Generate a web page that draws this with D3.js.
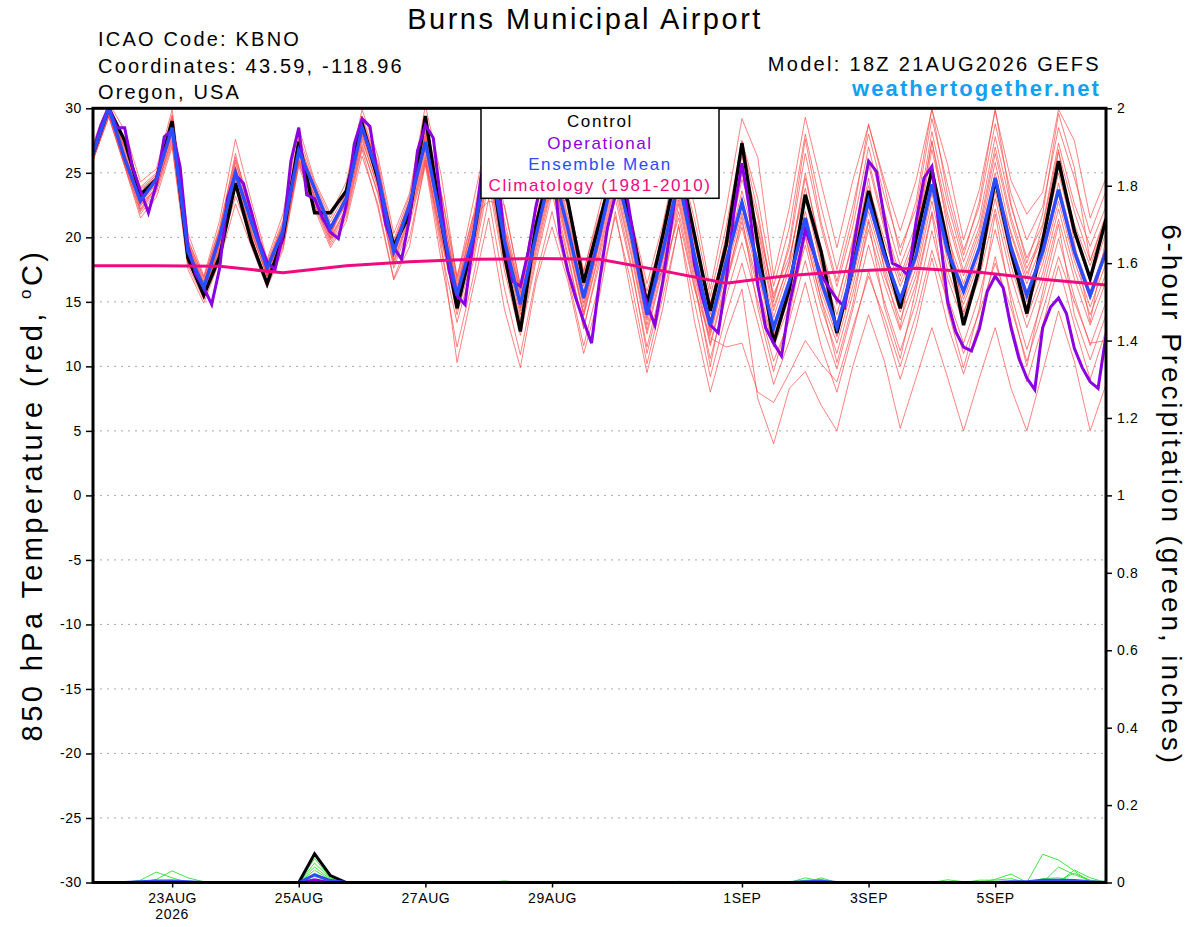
<!DOCTYPE html>
<html>
<head>
<meta charset="utf-8">
<script src="https://cdn.jsdelivr.net/npm/d3@7"></script>
<style>
body { margin: 0; background: #fff; }
svg text { font-family: "Liberation Sans", Arial, Helvetica, sans-serif; }
</style>
</head>
<body>
<div id="chart"></div>
<script>
// Forecast run: 18Z 21AUG2026, 6-hourly to 384 h
const runStart = Date.UTC(2026, 7, 21, 18);
const runEnd = Date.UTC(2026, 8, 6, 18);

// Control (black), 6-hourly, deg C
const control = [26.5,30.0,27.5,23.3, 24.5,29.0,18.4,15.5, 18.5,24.2,19.7,16.4, 20.0,27.4,21.9,21.9,
  23.6,28.8,24.5,19.3, 21.8,29.4,21.2,14.5, 19.7,27.0,18.6,12.7, 21.0,26.0,22.8,16.5,
  21.2,26.0,21.0,14.8, 20.2,26.0,20.2,14.3, 19.4,27.3,19.5,11.8, 16.0,23.3,18.9,12.6,
  17.6,23.6,18.9,14.5, 19.9,25.2,19.4,13.2, 17.6,24.5,18.9,14.1, 19.7,25.9,20.5,16.8, 21.4];

// Ensemble mean (blue), 6-hourly
const ensMean = [26.5,30.0,26.1,22.8, 24.5,28.5,18.9,16.1, 20.0,25.0,21.2,17.6, 20.5,26.7,23.8,20.7,
  23.0,28.5,24.9,18.9, 22.5,27.4,21.2,15.5, 20.0,26.5,19.7,14.8, 20.2,25.5,20.7,15.3,
  20.2,25.5,20.2,14.0, 18.9,24.5,18.6,13.2, 18.1,22.7,17.9,13.0, 16.6,21.5,16.6,13.0,
  17.6,22.8,18.6,15.2, 18.6,24.1,18.9,15.8, 19.2,24.6,19.2,15.5, 18.9,23.7,18.9,15.5, 18.9];

// Operational (purple), 3-hourly
const operational = [26.7,28.7,30.1,28.5,28.5,25.4,23.6,21.9,24.1,27.8,
  28.3,25.5,19.3,17.1,16.1,14.8,17.6,23.0,24.85,24.2,
  22.0,19.7,18.1,17.5,20.2,25.9,28.5,23.3,23.0,21.5,
  20.4,19.9,22.5,27.2,29.2,28.6,24.6,21.0,19.2,18.3,
  21.5,26.7,28.7,27.7,22.5,17.4,15.5,14.8,19.5,24.6,
  27.5,26.0,19.7,16.6,16.2,18.9,22.5,25.0,26.5,20.2,
  17.4,15.3,13.5,11.8,16.6,20.7,23.3,25.0,21.2,17.1,
  14.8,13.2,16.6,20.7,25.0,22.5,17.9,15.3,13.2,12.6,
  16.6,22.0,25.75,22.0,16.3,13.0,11.8,10.8,14.8,17.6,
  20.6,18.9,17.1,16.1,15.2,14.6,18.9,22.5,25.9,25.1,
  21.5,18.0,17.7,17.0,21.2,24.6,25.5,20.2,15.0,12.7,
  11.5,11.2,12.9,15.8,17.0,16.1,13.0,10.6,9.1,8.2,
  13.0,14.6,15.3,14.1,11.4,9.9,8.8,8.3,12.4];

// Climatology 1981-2010 (magenta), daily at 18Z
const climatology = [17.8,17.8,17.75,17.25,17.8,18.1,18.3,18.35,18.3,17.4,16.45,17.05,17.4,17.6,17.3,16.75,16.3];

// Ensemble members (red), 6-hourly
const memberA = [27.3,30.4,28.3,24.3, 25.3,29.9,20.3,17.0, 21.3,27.6,22.8,18.3, 21.8,28.5,24.4,21.8, 24.3,29.9,26.3,20.3, 23.4,30.2,24.8,16.8, 22.6,28.3,22.3,16.3, 22.1,27.4,23.0,17.3, 22.3,27.3,21.5,16.4, 21.0,26.8,22.5,16.0, 22.2,29.2,26.2,17.0, 22.3,29.3,24.2,19.2, 24.4,28.7,24.4,20.5, 24.4,29.9,25.6,19.8, 23.7,29.8,24.4,21.8, 23.5,29.9,27.5,21.5, 24.6];
const memberB = [26.9,30.1,27.5,23.9, 25.0,29.5,19.8,16.8, 20.8,26.2,22.2,18.1, 21.3,27.9,24.2,21.5, 23.8,29.4,25.8,19.8, 23.2,29.0,23.4,16.6, 21.5,27.8,21.3,16.0, 21.5,26.8,22.2,16.9, 21.5,26.8,21.2,15.8, 20.3,26.2,21.4,15.4, 20.8,27.5,23.0,16.2, 20.8,28.0,22.4,17.5, 22.4,28.0,23.2,19.2, 22.2,29.2,24.0,19.0, 22.4,28.8,23.4,19.8, 22.4,28.5,24.6,20.3, 23.6];
const memberC = [26.7,30.0,26.8,23.5, 24.9,29.2,19.5,16.5, 20.4,25.8,21.8,17.9, 21.0,27.4,24.0,21.2, 23.5,29.0,25.4,19.4, 22.8,28.3,22.5,16.3, 21.0,27.3,20.8,15.7, 21.0,26.4,21.7,16.4, 21.0,26.3,20.8,15.3, 19.8,25.6,20.3,14.8, 19.8,26.3,21.5,15.3, 19.2,26.5,20.8,16.2, 20.8,27.0,22.0,17.8, 21.0,28.2,22.6,18.1, 21.4,27.8,22.4,18.4, 21.0,27.3,22.6,19.3, 22.4];
const memberD = [26.5,30.2,26.4,23.0, 24.6,28.8,19.0,16.3, 20.2,25.3,21.4,17.7, 20.7,27.0,23.9,20.9, 23.2,28.7,25.0,19.0, 22.6,27.8,21.8,15.9, 20.4,26.8,20.2,15.2, 20.6,25.9,21.1,15.8, 20.6,25.9,20.5,14.7, 19.3,25.0,19.5,14.0, 19.0,25.0,20.0,14.3, 18.2,24.6,19.2,15.0, 19.5,25.6,20.6,16.6, 19.9,26.8,21.3,17.0, 20.4,26.5,21.2,17.2, 20.0,25.9,21.0,17.8, 21.3];
const memberE = [26.4,29.9,26.0,22.7, 24.4,28.4,18.7,16.0, 19.9,24.8,21.0,17.5, 20.4,26.6,23.7,20.6, 22.9,28.3,24.7,18.8, 22.3,27.2,21.0,15.4, 19.9,26.2,19.6,14.6, 20.0,25.3,20.6,15.2, 20.0,25.3,20.0,13.8, 18.7,24.2,18.5,13.0, 18.0,23.0,18.3,13.2, 16.9,22.0,17.0,13.3, 17.9,23.5,19.0,15.4, 18.6,24.8,19.5,16.0, 19.2,25.0,19.6,15.8, 19.0,24.2,19.3,15.8, 19.3];
const memberF = [26.3,29.7,25.8,22.4, 24.2,28.0,18.4,15.8, 19.6,24.4,20.7,17.3, 20.1,26.3,23.5,20.3, 22.6,27.9,24.3,18.5, 22.0,26.7,20.5,15.0, 19.4,25.6,19.0,14.0, 19.6,24.8,20.0,14.6, 19.5,24.6,19.4,13.2, 18.2,23.6,17.8,12.4, 17.3,21.9,17.0,12.4, 15.8,20.6,15.8,12.3, 16.8,22.0,17.7,14.2, 17.6,23.4,18.2,14.8, 18.1,23.6,18.4,14.5, 17.9,22.8,18.2,14.6, 18.0];
const memberG = [26.2,29.5,25.6,22.1, 23.9,27.6,18.1,15.5, 19.2,23.8,20.4,17.0, 19.8,26.0,23.2,20.0, 22.3,27.5,24.0,18.1, 21.6,26.2,19.8,14.4, 18.8,25.0,18.3,13.3, 19.0,24.2,19.3,13.9, 18.8,24.0,18.6,12.5, 17.5,22.9,17.0,11.6, 16.4,20.8,16.0,11.5, 14.8,19.4,14.6,11.0, 15.6,20.6,16.4,12.8, 16.4,22.0,16.8,13.4, 16.9,22.2,17.0,13.0, 16.6,21.4,16.8,13.2, 16.6];
const memberH = [26.1,29.4,25.5,21.8, 23.5,27.2,17.8,15.2, 18.8,23.2,20.0,16.6, 19.4,25.7,22.8,19.6, 21.8,27.0,23.5,17.6, 21.0,25.8,19.0,13.4, 18.0,24.2,17.4,12.4, 18.2,23.4,18.4,13.0, 17.9,23.0,17.6,11.5, 16.6,22.0,16.2,10.6, 15.4,19.6,15.0,10.4, 13.6,18.2,13.4,9.8, 14.4,19.4,15.0,11.2, 15.0,20.5,15.4,11.8, 15.5,20.6,15.6,11.3, 15.2,19.9,15.4,11.6, 15.0];
const memberI = [26.0,29.3,25.5,21.5, 23.1,27.0,17.5,14.9, 18.2,22.6,19.3,16.1, 19.0,25.5,22.2,19.2, 21.2,26.3,22.6,16.8, 20.0,25.6,18.2,11.5, 16.8,23.0,16.0,10.9, 17.0,22.0,17.0,11.6, 16.5,21.6,16.5,10.2, 15.4,20.8,15.0,9.2, 14.0,18.0,13.4,8.6, 12.0,16.5,11.6,8.0, 12.6,17.4,13.2,9.0, 13.0,18.4,13.2,9.4, 13.4,18.5,13.4,8.8, 13.2,17.8,13.2,9.0, 12.8];
const memberJ = [25.9,29.6,26.2,22.2, 24.0,28.2,18.0,15.6, 19.0,24.0,20.2,16.4, 19.2,25.9,22.5,19.4, 21.5,26.8,22.3,16.7, 19.3,26.0,19.5,10.3, 16.0,21.5,14.4,9.9, 16.6,20.8,16.6,11.0, 15.5,22.0,15.5,9.5, 14.5,21.0,13.5,8.0, 12.5,16.0,7.5,4.0, 8.3,9.6,7.0,5.0, 10.0,14.0,10.4,5.2, 9.1,13.0,9.1,5.0, 9.1,13.0,8.3,5.0, 9.6,14.3,10.4,5.0, 8.6];
const memberK = [26.6,29.8,27.0,23.2, 24.7,28.6,19.2,16.4, 20.5,25.5,21.5,17.2, 20.2,26.0,23.3,20.4, 22.7,28.0,24.6,19.2, 22.9,27.0,23.5,17.0, 21.6,22.8,22.5,16.2, 22.4,23.0,22.8,17.4, 21.8,24.0,21.0,15.0, 17.5,21.5,16.0,12.2, 11.5,11.8,8.0,7.2, 9.5,12.0,10.2,8.8, 13.0,17.0,13.8,10.0, 14.0,19.0,15.0,11.0, 14.2,18.0,14.5,10.4, 14.3,18.5,15.0,11.8, 12.0];
const memberL = [26.8,30.3,26.6,23.2, 24.0,28.1,19.8,16.9, 20.6,26.5,21.6,17.0, 20.8,26.8,23.0,20.0, 23.4,28.9,25.2,19.6, 22.6,27.9,21.5,15.2, 19.6,26.6,20.4,15.5, 20.4,24.9,19.6,14.2, 19.8,25.8,21.1,15.2, 19.4,24.2,18.0,12.8, 18.8,24.5,20.8,15.6, 18.5,23.8,18.0,12.4, 18.2,24.6,17.4,13.0, 20.2,27.5,20.6,14.2, 17.6,24.0,20.4,16.8, 20.8,26.8,19.6,13.4, 20.0];
const memberM = [26.4,30.0,27.0,23.7, 24.6,29.1,19.4,16.3, 19.8,25.4,21.0,17.8, 20.9,27.6,23.6,20.8, 23.0,29.2,25.5,19.0, 22.2,28.6,22.8,16.0, 21.2,27.0,20.0,14.5, 20.9,26.0,20.8,15.6, 21.2,26.6,20.3,14.4, 19.6,25.2,19.6,14.5, 20.1,27.4,22.0,15.0, 19.6,27.6,21.2,16.6, 21.6,28.8,24.0,18.6, 22.8,30.0,23.2,18.6, 22.8,30.0,22.6,18.0, 21.8,29.6,25.4,18.2, 21.5];
const memberN = [26.2,29.6,25.9,22.5, 23.8,27.4,18.5,15.6, 19.5,24.6,20.4,17.1, 19.6,25.8,22.5,19.8, 22.0,27.2,23.3,17.9, 21.4,26.0,20.2,14.0, 18.5,24.8,17.9,12.8, 18.6,23.9,18.7,12.9, 18.4,23.6,17.9,11.0, 16.0,22.6,16.6,10.0, 16.3,21.6,14.5,9.6, 14.0,20.0,15.2,10.3, 14.8,21.2,14.6,10.6, 16.0,21.8,14.4,9.9, 14.5,21.8,15.0,10.0, 15.8,21.0,14.0,10.5, 14.0];
const memberO = [26.6,30.1,26.3,22.6, 24.5,28.7,19.1,16.2, 20.1,25.1,21.3,17.6, 20.6,26.9,23.8,20.5, 23.1,28.6,24.8,18.8, 22.5,27.6,21.6,15.8, 20.3,26.4,19.9,15.0, 20.3,25.6,20.9,15.5, 20.3,25.6,20.2,14.2, 19.0,24.7,18.9,13.6, 18.4,23.6,19.0,13.8, 17.6,23.0,17.8,14.0, 18.8,24.0,19.8,16.2, 19.2,25.6,20.0,16.4, 20.0,25.8,20.2,16.4, 19.6,25.0,20.2,16.6, 20.4];
const memberP = [26.3,29.8,26.5,23.1, 24.3,28.3,18.8,15.9, 19.8,24.9,21.1,17.4, 20.5,26.5,23.6,20.6, 22.8,28.2,24.5,18.6, 22.1,27.0,20.8,15.3, 19.8,26.0,19.4,14.3, 19.8,25.1,20.3,14.9, 19.7,25.1,19.8,13.6, 18.4,24.0,18.2,12.6, 17.6,22.4,17.4,12.6, 16.2,21.2,16.2,12.7, 17.2,22.6,18.2,14.6, 18.2,24.0,18.6,15.2, 18.6,24.2,18.8,15.0, 18.4,23.4,18.6,15.2, 18.6];
const memberQ = [26.7,30.2,27.2,23.8, 24.8,29.4,19.6,16.6, 20.3,26.0,21.7,17.8, 21.1,27.2,23.6,20.2, 23.6,28.9,25.6,19.5, 22.9,28.1,22.0,16.0, 20.8,27.0,20.6,15.8, 20.8,26.2,21.4,16.2, 20.8,26.4,20.9,15.0, 19.9,25.8,20.0,14.9, 19.4,25.5,20.6,14.6, 18.0,25.0,18.8,14.8, 19.8,26.0,21.0,17.0, 20.4,27.4,21.8,17.4, 20.8,27.0,21.6,17.6, 20.2,26.6,22.0,18.2, 21.8];
const memberR = [26.0,29.4,25.7,22.0, 23.7,27.8,18.2,15.3, 19.4,24.2,20.6,16.9, 20.0,26.2,23.0,19.9, 22.2,27.7,23.8,18.2, 21.8,26.4,20.0,14.8, 19.1,25.3,18.7,13.6, 19.3,24.5,19.6,14.0, 19.1,24.3,18.9,12.8, 17.8,23.2,17.4,11.8, 16.8,21.2,16.4,11.8, 15.4,20.2,15.2,11.8, 16.2,21.4,17.0,13.6, 17.0,22.8,17.4,14.0, 17.6,23.0,17.8,13.8, 17.2,22.2,17.5,14.0, 17.2];
const members = [memberA, memberB, memberC, memberD, memberE, memberF, memberG, memberH, memberI,
  memberJ, memberK, memberL, memberM, memberN, memberO, memberP, memberQ, memberR];

// 6-hour precipitation (inches), 6-hourly
const precipControl = [0,0,0,0, 0,0,0,0, 0,0,0,0, 0,0,0.074,0.018, 0,0,0,0, 0,0,0,0, 0,0,0,0, 0,0,0,0,
  0,0,0,0, 0,0,0,0, 0,0,0,0, 0,0,0,0, 0,0,0,0, 0,0,0,0, 0,0,0,0, 0,0,0,0, 0];
const precipMean = [0,0,0,0.002, 0.004,0.004,0.002,0, 0,0,0,0, 0,0,0.02,0.005, 0,0,0,0, 0,0,0,0, 0,0,0,0, 0,0,0,0,
  0,0,0,0, 0,0,0,0, 0,0,0,0, 0,0.002,0.003,0, 0,0,0,0, 0,0,0,0, 0,0,0.002,0.002, 0.006,0.006,0.005,0.002, 0];
const precipOper = [0,0,0,0, 0,0,0,0, 0,0,0,0, 0,0,0.008,0, 0,0,0,0, 0,0,0,0, 0,0,0,0, 0,0,0,0,
  0,0,0,0, 0,0,0,0, 0,0,0,0, 0,0,0,0, 0,0,0,0, 0,0,0,0, 0,0,0,0, 0,0,0,0, 0];
const precip1 = [0,0,0,0.006, 0.027,0.012,0,0, 0,0,0,0, 0,0,0.062,0.012, 0,0,0,0, 0,0,0,0, 0,0,0,0, 0,0,0,0,
  0,0,0,0, 0,0,0,0, 0,0,0,0, 0,0.012,0.004,0, 0,0,0,0, 0,0,0,0, 0,0,0,0, 0.073,0.058,0.03,0, 0];
const precip2 = [0,0.002,0.001,0, 0.008,0.03,0.012,0.002, 0,0,0,0, 0,0,0.05,0.01, 0,0,0,0, 0,0,0,0, 0,0,0,0, 0,0,0,0,
  0,0,0,0, 0,0,0,0, 0,0,0,0, 0,0,0.012,0, 0,0,0,0, 0,0,0,0, 0,0.008,0.022,0, 0,0.04,0.02,0.005, 0];
const precip3 = [0,0,0,0, 0.004,0.006,0,0, 0,0,0,0, 0,0,0.04,0.008, 0,0,0,0, 0,0,0,0, 0,0,0.004,0, 0,0,0,0,
  0,0,0,0, 0,0,0,0, 0,0,0,0, 0,0.006,0.008,0, 0,0,0,0, 0,0,0.007,0.002, 0,0,0,0, 0,0,0.032,0.012, 0];
const precip4 = [0,0,0,0, 0,0,0,0, 0,0,0,0, 0,0,0.032,0.006, 0,0,0,0, 0,0,0,0, 0,0,0,0, 0,0,0,0,
  0,0,0,0, 0,0.003,0.002,0, 0,0,0,0, 0,0,0,0, 0,0,0,0, 0,0,0,0, 0.006,0.006,0.01,0, 0,0.005,0.024,0.006, 0];
const precip5 = [0,0,0,0, 0,0,0,0, 0,0,0,0, 0,0,0.024,0.004, 0,0,0,0, 0,0,0,0, 0,0,0,0, 0,0,0,0,
  0,0,0,0, 0,0,0,0, 0,0.002,0.002,0, 0,0,0,0, 0,0,0,0, 0,0,0,0, 0,0,0,0, 0.01,0.012,0.006,0, 0];
const precip6 = [0,0,0,0.004, 0,0,0,0, 0,0,0,0, 0,0,0.016,0.002, 0,0,0,0, 0,0,0,0, 0,0,0,0, 0,0,0,0,
  0,0,0,0, 0,0,0,0, 0,0,0,0, 0,0.004,0,0, 0,0,0,0, 0,0,0,0, 0,0,0,0, 0,0,0,0, 0.004];
const precipMembers = [precip1, precip2, precip3, precip4, precip5, precip6];

// Axis ticks
const tempTicks = d3.range(-30, 31, 5);
const precipTicks = d3.range(0, 11).map(k => k / 5);
const xTickDates = [Date.UTC(2026,7,23), Date.UTC(2026,7,25), Date.UTC(2026,7,27), Date.UTC(2026,7,29),
  Date.UTC(2026,8,1), Date.UTC(2026,8,3), Date.UTC(2026,8,5)];
const xTickLabels = ['23AUG', '25AUG', '27AUG', '29AUG', '1SEP', '3SEP', '5SEP'];

const width = 1200, height = 927;
const margin = { top: 108.3, right: 94, bottom: 44.5, left: 93 };
const innerWidth = width - margin.left - margin.right;
const innerHeight = height - margin.top - margin.bottom;

const root = d3.select('#chart').append('svg')
  .attr('width', width)
  .attr('height', height)
  .style('display', 'block');
root.append('rect').attr('width', width).attr('height', height).attr('fill', '#fff');

const svg = root.append('g').attr('transform', `translate(${margin.left},${margin.top})`);

// Scales
const x = d3.scaleUtc().domain([runStart, runEnd]).range([0, innerWidth]);
const yT = d3.scaleLinear().domain([-30, 30]).range([innerHeight, 0]);
const yP = d3.scaleLinear().domain([0, 2]).range([innerHeight, 0]);
const HOUR = 3600 * 1000;
const timeAt = (i, step) => runStart + i * step * HOUR;

svg.append('clipPath').attr('id', 'plot-clip')
  .append('rect').attr('x', 0).attr('y', 0).attr('width', innerWidth).attr('height', innerHeight);

// Dotted grid at temperature ticks
svg.append('g').selectAll('line')
  .data(tempTicks.filter(t => t > -30 && t < 30))
  .join('line')
  .attr('x1', 0).attr('x2', innerWidth)
  .attr('y1', d => yT(d)).attr('y2', d => yT(d))
  .attr('stroke', '#a8a8a8')
  .attr('stroke-width', 1)
  .attr('stroke-dasharray', '2,5');

const plot = svg.append('g').attr('clip-path', 'url(#plot-clip)');

const lineOf = (step, scale) => d3.line()
  .x((d, i) => x(timeAt(i, step)))
  .y(d => scale(d));

// Ensemble members
plot.append('g').selectAll('path')
  .data(members)
  .join('path')
  .attr('d', lineOf(6, yT))
  .attr('fill', 'none')
  .attr('stroke', '#ff4646')
  .attr('stroke-opacity', 0.85)
  .attr('stroke-width', 0.8);

// Precipitation members
plot.append('g').selectAll('path')
  .data(precipMembers)
  .join('path')
  .attr('d', lineOf(6, yP))
  .attr('fill', 'none')
  .attr('stroke', '#2ee02e')
  .attr('stroke-width', 0.9);

plot.append('path').datum(precipControl)
  .attr('d', lineOf(6, yP)).attr('fill', 'none')
  .attr('stroke', '#000').attr('stroke-width', 3);
plot.append('path').datum(precipOper)
  .attr('d', lineOf(6, yP)).attr('fill', 'none')
  .attr('stroke', '#8a00e0').attr('stroke-width', 2.5);
plot.append('path').datum(precipMean)
  .attr('d', lineOf(6, yP)).attr('fill', 'none')
  .attr('stroke', '#2b4cff').attr('stroke-width', 3);

// Main temperature lines
plot.append('path').datum(control)
  .attr('d', lineOf(6, yT)).attr('fill', 'none')
  .attr('stroke', '#000').attr('stroke-width', 3.4);
plot.append('path').datum(operational)
  .attr('d', lineOf(3, yT)).attr('fill', 'none')
  .attr('stroke', '#8a00e0').attr('stroke-width', 3);
plot.append('path').datum(ensMean)
  .attr('d', lineOf(6, yT)).attr('fill', 'none')
  .attr('stroke', '#2b4cff').attr('stroke-width', 3.4);
plot.append('path').datum(climatology)
  .attr('d', lineOf(24, yT)).attr('fill', 'none')
  .attr('stroke', '#f00a80').attr('stroke-width', 3);

// Axes (tick marks from d3 axes, side labels placed from the same scales)
const styleAxis = g => {
  g.select('.domain').remove();
  g.selectAll('.tick line').attr('stroke', '#000').attr('stroke-width', 1.5);
  g.selectAll('.tick text')
    .attr('fill', '#000')
    .attr('font-size', 14)
    .attr('font-family', '"Liberation Sans", Arial, sans-serif')
    .style('letter-spacing', '0.6px');
};
const dropLabels = g => g.selectAll('.tick text').remove();

svg.append('g')
  .call(d3.axisLeft(yT).tickValues(tempTicks).tickSize(7))
  .call(styleAxis)
  .call(dropLabels);

svg.append('g')
  .attr('transform', `translate(${innerWidth},0)`)
  .call(d3.axisRight(yP).tickValues(precipTicks).tickSize(6))
  .call(styleAxis)
  .call(dropLabels);

svg.append('g')
  .attr('transform', `translate(0,${innerHeight})`)
  .call(d3.axisBottom(x).tickValues(xTickDates).tickSize(5).tickPadding(5.5)
    .tickFormat((d, i) => xTickLabels[i]))
  .call(styleAxis);

svg.append('g').selectAll('text')
  .data(tempTicks)
  .join('text')
  .attr('x', -11)
  .attr('y', d => yT(d) + 5)
  .attr('text-anchor', 'end')
  .attr('font-size', 14)
  .style('letter-spacing', '0.6px')
  .text(d => d);

svg.append('g').selectAll('text')
  .data(precipTicks)
  .join('text')
  .attr('x', innerWidth + 11)
  .attr('y', d => yP(d) + 5)
  .attr('text-anchor', 'start')
  .attr('font-size', 14)
  .style('letter-spacing', '0.6px')
  .text(d => String(+d.toFixed(1)));

svg.append('text')
  .attr('x', x(xTickDates[0]))
  .attr('y', innerHeight + 37)
  .attr('text-anchor', 'middle')
  .attr('font-size', 14)
  .style('letter-spacing', '0.6px')
  .text('2026');

// Frame
svg.append('rect')
  .attr('x', 0).attr('y', 0)
  .attr('width', innerWidth).attr('height', innerHeight)
  .attr('fill', 'none')
  .attr('stroke', '#000')
  .attr('stroke-width', 3);

// Legend
const legendItems = [
  { label: 'Control', color: '#000' },
  { label: 'Operational', color: '#8a00e0' },
  { label: 'Ensemble Mean', color: '#2b4cff' },
  { label: 'Climatology (1981-2010)', color: '#f00a80' }
];
const legend = svg.append('g').attr('transform', `translate(${481 - margin.left},0)`);
legend.append('rect')
  .attr('x', 0).attr('y', 0)
  .attr('width', 238).attr('height', 90)
  .attr('fill', '#fff')
  .attr('stroke', '#000')
  .attr('stroke-width', 1.5);
legend.selectAll('text.legend-label')
  .data(legendItems)
  .join('text')
  .attr('class', 'legend-label')
  .attr('x', 119)
  .attr('y', (d, i) => 19 + i * 21.3)
  .attr('text-anchor', 'middle')
  .attr('font-size', 17)
  .style('letter-spacing', '1.6px')
  .attr('fill', d => d.color)
  .text(d => d.label);

// Titles
root.append('text')
  .attr('x', 585).attr('y', 29)
  .attr('text-anchor', 'middle')
  .attr('font-size', 29)
  .style('letter-spacing', '2.5px')
  .text('Burns Municipal Airport');

const infoLines = ['ICAO Code: KBNO', 'Coordinates: 43.59, -118.96', 'Oregon, USA'];
root.append('g').selectAll('text')
  .data(infoLines)
  .join('text')
  .attr('x', 98)
  .attr('y', (d, i) => 46 + i * 26.5)
  .attr('font-size', 20)
  .style('letter-spacing', '2.2px')
  .text(d => d);

root.append('text')
  .attr('x', 1101).attr('y', 71)
  .attr('text-anchor', 'end')
  .attr('font-size', 20)
  .style('letter-spacing', '2.3px')
  .text('Model: 18Z 21AUG2026 GEFS');

root.append('text')
  .attr('x', 1101).attr('y', 96)
  .attr('text-anchor', 'end')
  .attr('font-size', 22)
  .attr('font-weight', 'bold')
  .attr('fill', '#12a0f2')
  .style('letter-spacing', '2.1px')
  .text('weathertogether.net');

// Axis titles
const leftTitle = root.append('text')
  .attr('transform', 'translate(42,495) rotate(-90)')
  .attr('text-anchor', 'middle')
  .attr('font-size', 29)
  .style('letter-spacing', '3.4px');
leftTitle.append('tspan').text('850 hPa Temperature (red, ');
leftTitle.append('tspan').attr('font-size', 17).attr('dy', -11).text('o');
leftTitle.append('tspan').attr('dy', 11).text('C)');

root.append('text')
  .attr('transform', 'translate(1162,495) rotate(90)')
  .attr('text-anchor', 'middle')
  .attr('font-size', 28)
  .style('letter-spacing', '2.9px')
  .text('6-hour Precipitation (green, inches)');
</script>
</body>
</html>
